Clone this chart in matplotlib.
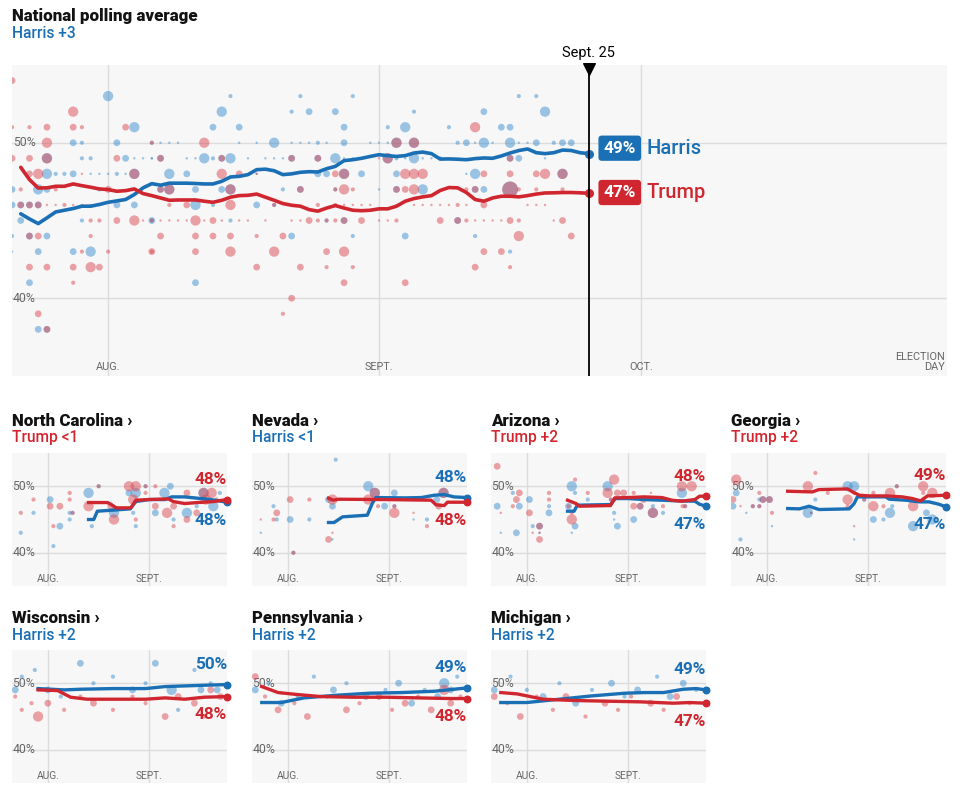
import matplotlib
matplotlib.use('Agg')
import matplotlib.pyplot as plt

plt.rcParams['font.family'] = ['Roboto', 'DejaVu Sans']

# days are counted from Aug. 1 (Sept. 1 = 31, Oct. 1 = 61, Election Day = 96)
month_ticks = [0, 31, 61]
month_labels = ['AUG.', 'SEPT.', 'OCT.']
today = 55  # Sept. 25

# national polling average (day, pct)
harris_avg_days = list(range(-10, 56))
harris_avg = [45.43, 45.1, 44.8, 45.17, 45.55, 45.66, 45.77, 45.92, 45.92, 46.03,
              46.17, 46.26, 46.35, 46.67, 47.1, 47.37, 47.27, 47.4, 47.4, 47.4,
              47.38, 47.35, 47.35, 47.52, 47.8, 47.84, 47.95, 48.27, 48.3, 48.2,
              47.95, 48.0, 48.1, 48.14, 48.12, 48.33, 48.48, 48.85, 48.91, 49.0,
              49.12, 49.23, 49.17, 49.12, 49.17, 49.34, 49.4, 49.3, 48.95, 48.96,
              48.94, 48.91, 48.98, 49.02, 49.0, 49.15, 49.34, 49.5, 49.6, 49.36,
              49.3, 49.36, 49.53, 49.5, 49.36, 49.3]
trump_avg_days = list(range(-10, 56))
trump_avg = [48.42, 47.63, 47.09, 47.1, 47.2, 47.2, 47.35, 47.24, 47.14, 47.03,
             46.99, 46.88, 46.92, 47.03, 46.73, 46.6, 46.45, 46.3, 46.32, 46.32,
             46.32, 46.24, 46.17, 46.3, 46.5, 46.6, 46.62, 46.7, 46.5, 46.3,
             46.09, 45.98, 45.92, 45.7, 45.6, 45.8, 45.96, 45.8, 45.66, 45.63,
             45.66, 45.75, 45.75, 45.92, 46.24, 46.41, 46.52, 46.6, 46.93, 47.12,
             47.1, 46.8, 46.35, 46.24, 46.45, 46.56, 46.56, 46.52, 46.6, 46.7,
             46.77, 46.78, 46.8, 46.8, 46.78, 46.75]

# individual national polls: (day, pct, poll weight 1-5)
harris_polls = [
    (0, 53, 4), (3, 51, 4), (-4, 50, 3), (-3, 50, 2), (1, 50, 3), (5, 50, 2),
    (-7, 49, 4), (-3, 49, 2), (-2, 49, 2), (2, 49, 3), (3, 49, 1), (4, 49, 1), (5, 49, 1),
    (-7, 48, 4), (-6, 48, 2), (-5, 48, 2), (-4, 48, 3), (-2, 48, 1), (-1, 48, 1), (0, 48, 1),
    (1, 48, 2), (2, 48, 1), (3, 48, 4), (-11, 47, 3), (-8, 47, 4), (-7, 47, 3), (-1, 47, 2),
    (-11, 46, 3), (-10, 46, 3), (-9, 46, 3), (-8, 46, 3), (1, 46, 3), (3, 46, 3),
    (-10, 45, 3), (-3, 45, 2), (5, 45, 2), (-11, 44, 2), (-9, 44, 3), (-7, 44, 3),
    (-11, 43, 1), (-8, 43, 3), (-4, 43, 3), (-2, 43, 4), (-9, 41, 3), (-8, 38, 3), (-7, 38, 3),
    (14, 53, 2), (22, 53, 2), (13, 52, 4), (21, 52, 2), (12, 51, 3), (15, 51, 3),
    (6, 50, 1), (7, 50, 1), (8, 50, 1), (15, 50, 1), (17, 50, 1), (19, 50, 4), (21, 50, 1), (22, 50, 1),
    (5, 49, 1), (6, 49, 3), (9, 49, 1), (10, 49, 1), (11, 49, 4), (12, 49, 2), (13, 49, 3),
    (14, 49, 4), (16, 49, 1), (18, 49, 1), (19, 49, 1), (20, 49, 1), (21, 49, 3),
    (7, 48, 4), (9, 48, 3), (17, 48, 1), (6, 47, 3), (7, 47, 4), (10, 47, 3), (13, 47, 3),
    (14, 47, 4), (20, 47, 2), (22, 47, 3), (10, 46, 4), (12, 46, 2), (17, 46, 3), (19, 46, 2),
    (5, 45, 3), (14, 45, 2), (21, 44, 3), (10, 41, 3),
    (28, 53, 2), (23, 52, 3), (26, 52, 3), (35, 52, 2), (27, 51, 3), (32, 51, 2), (34, 51, 4),
    (23, 50, 1), (24, 50, 2), (25, 50, 1), (27, 50, 3), (30, 50, 1), (31, 50, 1), (32, 50, 1),
    (33, 50, 4), (35, 50, 4), (24, 49, 3), (26, 49, 4), (27, 49, 1), (28, 49, 1), (32, 49, 4),
    (33, 49, 2), (34, 49, 1), (35, 49, 4), (36, 49, 1), (37, 49, 1), (38, 49, 2),
    (24, 48, 3), (25, 48, 3), (27, 48, 4), (29, 48, 3), (33, 48, 3), (26, 47, 2), (31, 47, 1),
    (33, 47, 3), (36, 47, 4), (25, 45, 2), (27, 45, 3), (28, 44, 2), (34, 44, 3),
    (47, 53, 2), (49, 53, 2), (43, 52, 3), (50, 52, 4), (39, 51, 2), (45, 51, 3), (46, 51, 3),
    (40, 50, 2), (41, 50, 3), (42, 50, 1), (43, 50, 4), (44, 50, 1), (46, 50, 4), (47, 50, 1),
    (48, 50, 1), (49, 50, 3), (51, 50, 2), (52, 50, 3), (53, 50, 3), (46, 49, 3), (47, 49, 3),
    (50, 49, 1), (41, 48, 1), (42, 48, 4), (52, 48, 4), (42, 47, 3), (43, 47, 3), (46, 47, 5),
    (40, 45, 3), (42, 44, 2), (46, 43, 2),
]
trump_polls = [
    (-11, 54, 3), (-4, 52, 4), (-11, 51, 2), (-9, 51, 2), (-7, 51, 3), (-4, 51, 3), (-3, 51, 2),
    (2, 51, 3), (-7, 50, 4), (5, 50, 2), (-11, 49, 3), (-9, 49, 3), (-7, 49, 4), (1, 49, 3),
    (-9, 48, 3), (-8, 48, 4), (-3, 48, 1), (3, 48, 4), (-10, 47, 2), (-6, 47, 2), (0, 47, 3),
    (-10, 46, 3), (-9, 46, 3), (-8, 46, 3), (-7, 46, 1), (-6, 46, 1), (-5, 46, 2), (-4, 46, 1),
    (-3, 46, 1), (-2, 46, 1), (-1, 46, 1), (-2, 45, 2), (-1, 45, 2), (1, 45, 3), (3, 45, 4),
    (4, 45, 1), (5, 45, 2), (-9, 44, 3), (-8, 44, 3), (-2, 44, 2), (-3, 43, 2), (0, 43, 2),
    (5, 43, 2), (-9, 42, 3), (-7, 42, 3), (-4, 42, 3), (-2, 42, 4), (-1, 42, 3), (-4, 41, 2),
    (-8, 39, 3), (-7, 38, 3),
    (11, 50, 4), (6, 49, 3), (13, 49, 3), (21, 49, 3), (13, 48, 4), (15, 48, 3), (17, 48, 1),
    (6, 47, 3), (7, 47, 4), (14, 47, 4), (7, 46, 2), (9, 46, 3), (14, 46, 4), (19, 46, 2),
    (6, 45, 1), (7, 45, 1), (8, 45, 1), (9, 45, 1), (10, 45, 4), (11, 45, 1), (12, 45, 3),
    (13, 45, 1), (15, 45, 1), (16, 45, 1), (18, 45, 1), (21, 45, 1), (22, 45, 1),
    (6, 44, 3), (10, 44, 3), (12, 44, 3), (14, 44, 3), (17, 44, 2), (20, 44, 3),
    (5, 43, 3), (10, 43, 3), (14, 43, 4), (19, 43, 4), (17, 42, 3), (22, 42, 3), (21, 40, 3), (20, 39, 2),
    (24, 49, 3), (31, 49, 1), (32, 49, 4), (33, 50, 4), (35, 50, 4), (26, 48, 3), (27, 48, 4),
    (34, 48, 4), (35, 48, 4), (36, 48, 4), (22, 47, 3), (26, 47, 2), (27, 47, 4), (28, 47, 2),
    (33, 47, 3), (34, 47, 3), (35, 47, 4), (24, 46, 2), (26, 46, 2), (27, 46, 1), (28, 46, 1),
    (29, 46, 1), (30, 46, 1), (33, 46, 1), (35, 46, 1), (36, 46, 1), (37, 46, 1), (38, 46, 1),
    (23, 45, 3), (24, 45, 2), (25, 45, 2), (26, 45, 2), (27, 45, 3), (29, 45, 3), (31, 45, 1),
    (32, 45, 1), (33, 45, 2), (38, 45, 3), (25, 43, 3), (27, 43, 4), (25, 42, 2), (28, 42, 2),
    (27, 41, 3), (34, 41, 3),
    (42, 51, 4), (46, 49, 3), (43, 48, 3), (46, 48, 3), (49, 48, 3), (50, 48, 4), (52, 48, 4),
    (41, 47, 2), (42, 47, 3), (46, 47, 5), (47, 47, 2), (49, 47, 2), (52, 47, 2),
    (39, 46, 1), (40, 46, 2), (41, 46, 1), (43, 46, 3), (48, 46, 1), (49, 46, 1), (50, 46, 1),
    (40, 45, 3), (41, 45, 2), (42, 45, 1), (43, 45, 1), (44, 45, 1), (45, 45, 1), (46, 45, 3),
    (47, 45, 2), (51, 45, 1), (52, 45, 3), (47, 44, 4), (53, 44, 3), (43, 43, 3), (45, 43, 3),
    (42, 42, 3), (46, 42, 2),
]

# battleground states
states = ['North Carolina', 'Nevada', 'Arizona', 'Georgia', 'Wisconsin', 'Pennsylvania', 'Michigan']
leaders = ['Trump <1', 'Harris <1', 'Trump +2', 'Trump +2', 'Harris +2', 'Harris +2', 'Harris +2']
harris_final = ['48%', '48%', '47%', '47%', '50%', '49%', '49%']
trump_final = ['48%', '48%', '48%', '49%', '48%', '48%', '47%']

state_harris_days = [
    [12.5, 14.1, 15.2, 19.7, 25.3, 27, 31, 36, 38, 42, 46, 50, 55],
    [12.5, 14.2, 16.8, 24.4, 25.9, 27, 36, 41, 45, 48, 51, 55],
    [12.5, 14.5, 15.5, 25.7, 27.2, 31, 36, 41.5, 46.5, 51.6, 53, 55],
    [6.4, 10, 13, 16, 25.3, 26.8, 27.8, 36.5, 37.6, 42.7, 46.8, 49.8, 52.8, 55],
    [-3, 5, 10, 20, 30, 36, 42, 48, 55],
    [-8, -2, 5, 15, 25, 35, 45, 55],
    [-8, 0, 10, 20, 30, 36, 42, 48, 52, 55],
]
state_harris = [
    [45.0, 45.0, 46.25, 46.4, 46.6, 47.7, 48.0, 48.0, 48.4, 48.4, 48.2, 48.0, 47.6],
    [44.55, 44.55, 45.4, 45.65, 47.4, 48.3, 48.25, 48.3, 48.65, 48.75, 48.4, 48.3],
    [46.25, 46.25, 47.15, 47.25, 48.15, 48.15, 48.0, 47.9, 47.8, 47.75, 47.3, 47.0],
    [46.65, 46.6, 47.0, 46.5, 46.6, 47.4, 48.4, 48.4, 48.05, 47.9, 47.65, 47.65, 47.3, 46.9],
    [49.2, 49.0, 49.1, 49.2, 49.2, 49.5, 49.6, 49.7, 49.8],
    [47.1, 47.1, 47.8, 48.2, 48.5, 48.6, 48.8, 49.3],
    [47.1, 47.1, 47.6, 48.1, 48.5, 48.6, 48.6, 49.1, 49.2, 49.0],
]
state_trump_days = [
    [12.5, 18.3, 19.3, 21, 25.5, 27, 31, 37, 38.5, 42, 46, 51, 55],
    [12.5, 14, 15.5, 30, 44, 45.5, 48, 49, 55],
    [12.5, 15.1, 16.1, 25.7, 27, 31, 36, 41.5, 44.5, 47.6, 51.6, 53, 55],
    [6.4, 14, 16, 24.8, 26.3, 28.4, 31.4, 36.5, 41.6, 44.7, 47.2, 49.3, 55],
    [-3, 3, 7, 12, 20, 30, 36, 42, 48, 55],
    [-8, -3, 3, 10, 20, 30, 40, 50, 55],
    [-8, -3, 5, 15, 25, 35, 45, 50, 55],
]
state_trump = [
    [47.55, 47.55, 47.3, 46.75, 46.75, 47.9, 48.0, 48.1, 47.7, 47.4, 47.55, 47.7, 48.0],
    [48.2, 47.9, 48.05, 48.0, 47.9, 47.2, 47.1, 47.6, 47.6],
    [47.9, 47.4, 47.0, 47.1, 48.25, 48.3, 48.4, 48.3, 47.9, 47.75, 48.0, 48.5, 48.5],
    [49.25, 49.15, 49.5, 49.6, 49.15, 48.65, 48.55, 48.55, 48.4, 48.15, 47.8, 48.55, 48.65],
    [49.0, 48.9, 47.9, 47.6, 47.6, 47.6, 47.8, 47.6, 47.9, 48.0],
    [49.5, 48.6, 48.3, 48.0, 47.9, 47.9, 47.8, 47.7, 47.7],
    [48.6, 48.4, 47.6, 47.4, 47.3, 47.2, 47.0, 47.1, 47.0],
]

state_harris_polls = [
    [(-8.3, 43, 2), (-4.4, 46, 2), (0.7, 48, 3), (1.7, 41, 2), (3.7, 44, 3), (6.7, 46, 2),
     (6.7, 45, 2), (7.6, 46, 2), (12.5, 49, 4), (13.5, 44, 2), (15.6, 50, 2), (20.3, 46, 4),
     (24.9, 49, 3), (27, 49, 4), (26.2, 46, 2), (27, 44, 2), (30, 50, 2), (33, 46, 3),
     (35.8, 49, 4), (37.6, 50, 3), (38.6, 45, 2), (42.7, 46, 4), (45.7, 47, 2), (47.8, 49, 4),
     (50.8, 47, 4), (52.8, 49, 2)],
    [(-8.3, 43, 1), (-4.4, 47, 2), (-3.4, 45, 2), (0.7, 45, 3), (1.7, 40, 2), (6.6, 45, 2),
     (12.5, 48, 3), (13.7, 47, 3), (14.7, 54, 2), (13.7, 42, 1), (24.7, 50, 4), (26.7, 49, 4),
     (29.7, 47, 3), (32.7, 49, 3), (32.7, 47, 2), (38.6, 45, 1), (42.7, 45, 2), (45.7, 48, 3),
     (47.8, 49, 4)],
    [(-9.1, 47, 3), (-8, 43, 1), (-4.3, 49, 2), (-2.3, 47, 3), (-3.2, 43, 3), (0.8, 48, 3),
     (1.8, 44, 2), (3.9, 44, 3), (3.9, 43, 1), (6.8, 47, 2), (6.8, 46, 3), (12.8, 47, 3),
     (13.8, 50, 4), (14.8, 49, 2), (14.8, 44, 3), (13.8, 43, 1), (18.7, 48, 2), (24.8, 50, 4),
     (25.8, 48, 2), (26.8, 46, 2), (26.8, 45, 1), (27.8, 44, 3), (32.8, 45, 3), (34.8, 47, 3),
     (38.7, 46, 4), (38.7, 47, 2), (41.8, 46, 2), (47.6, 49, 4), (48.6, 47, 2)],
    [(-9.4, 49, 3), (-10.4, 47, 3), (-8.1, 42, 2), (-6.3, 46, 1), (-4.3, 47, 2), (-2.3, 47, 2),
     (-2.3, 48, 2), (-1.2, 48, 3), (0.8, 48, 3), (1.6, 44, 1), (12.6, 46, 4), (13.6, 46, 1),
     (14.9, 48, 2), (24.8, 50, 4), (26.8, 50, 4), (26.8, 42, 1), (29.9, 48, 2), (32.7, 45, 3),
     (35.8, 45, 2), (37.8, 46, 4), (38.5, 47, 2), (39.9, 50, 2), (44.9, 44, 4), (49, 46, 3),
     (50.8, 45, 4)],
    [(-10, 49, 3), (-8, 51, 2), (-4, 52, 2), (0, 49, 3), (4, 48, 2), (10, 53, 3), (14, 50, 2),
     (20, 51, 2), (26, 49, 3), (30, 50, 2), (33, 53, 3), (38, 49, 4), (40, 46, 2), (45, 52, 2),
     (47, 49, 3), (50, 50, 2), (52, 49, 3)],
    [(-10, 49, 3), (-6, 50, 2), (-2, 47, 3), (3, 48, 2), (8, 51, 2), (14, 49, 3), (18, 50, 2),
     (24, 48, 3), (30, 49, 2), (34, 50, 3), (38, 47, 3), (42, 49, 2), (46, 48, 3), (48, 50, 4),
     (50, 49, 3), (52, 51, 2)],
    [(-10, 49, 3), (-5, 51, 2), (0, 49, 2), (5, 48, 3), (10, 50, 2), (15, 47, 3), (20, 49, 2),
     (26, 50, 3), (30, 48, 2), (34, 49, 3), (40, 51, 2), (44, 48, 3), (48, 50, 3), (52, 49, 2)],
]
state_trump_polls = [
    [(-8.3, 46, 2), (-4.4, 48, 2), (0.7, 47, 3), (1.7, 44, 2), (3.7, 47, 3), (6.7, 49, 2),
     (6.7, 48, 2), (7.6, 46, 2), (12.5, 47, 4), (15.6, 50, 2), (19.3, 47, 3), (20.3, 45, 4),
     (24.9, 50, 4), (27, 50, 4), (26.2, 48, 4), (27, 45, 2), (30, 49, 2), (30, 50, 2),
     (33, 50, 2), (33, 47, 3), (36.6, 46, 4), (38.6, 47, 3), (38.6, 44, 2), (42.7, 49, 3),
     (42.7, 45, 3), (45.7, 46, 3), (47.8, 49, 4), (50.3, 49, 4), (48.5, 48, 4), (51.8, 48, 2)],
    [(-8.3, 45, 1), (-4.4, 45, 2), (-3.4, 46, 3), (0.7, 48, 3), (1.7, 40, 2), (6.6, 48, 2),
     (13.7, 48, 4), (12.5, 42, 3), (13.7, 43, 1), (24.7, 48, 4), (26.7, 49, 4), (24.7, 46, 1),
     (27.7, 47, 2), (32.7, 47, 2), (32.7, 46, 4), (38.6, 46, 1), (42.7, 44, 2), (47.8, 49, 4),
     (46.3, 47, 3)],
    [(-9.1, 53, 3), (-8, 46, 1), (-4.3, 47, 2), (-3.2, 48, 3), (-2.3, 49, 3), (0.8, 46, 3),
     (1.8, 43, 1), (3.9, 44, 3), (3.9, 42, 3), (3.9, 43, 1), (6.8, 49, 2), (6.8, 48, 2),
     (12.8, 47, 2), (14.8, 51, 2), (13.8, 46, 2), (13.8, 45, 4), (18.7, 49, 2), (26.8, 51, 4),
     (24.8, 49, 4), (25.8, 48, 2), (27.8, 49, 3), (29.7, 49, 3), (32.8, 49, 2), (32.8, 47, 3),
     (34.8, 47, 3), (35.8, 48, 3), (38.1, 49, 1), (38.7, 46, 4), (41.8, 47, 2), (47.6, 50, 4),
     (50.6, 50, 4), (48.6, 47, 2), (47.8, 47, 2)],
    [(-9.4, 51, 4), (-10.4, 48, 3), (-8.1, 47, 1), (-4.3, 47, 2), (-2.3, 47, 2), (-2.3, 49, 2),
     (-1.2, 48, 3), (0.8, 48, 3), (1.6, 46, 2), (12.6, 50, 4), (13.6, 46, 1), (14.9, 52, 2),
     (18.7, 49, 2), (24.8, 48, 4), (26.8, 49, 2), (24.8, 47, 2), (26.8, 44, 1), (29.9, 48, 2),
     (32.7, 49, 2), (32.7, 47, 4), (35.8, 47, 2), (37.8, 49, 4), (39.9, 50, 2), (44.9, 47, 4),
     (48, 50, 4), (50.8, 49, 4), (48, 49, 2), (48, 48, 2)],
    [(-10, 48, 2), (-8, 46, 2), (-5, 47, 2), (-3, 45, 4), (0, 47, 3), (5, 46, 2), (10, 48, 2),
     (14, 47, 3), (20, 46, 2), (26, 48, 2), (30, 47, 2), (36, 45, 3), (40, 48, 3), (45, 47, 3),
     (48, 45, 2), (50, 49, 3), (53, 48, 3)],
    [(-10, 51, 3), (-7, 48, 2), (-3, 46, 3), (2, 47, 2), (6, 45, 3), (12, 48, 2), (18, 46, 3),
     (22, 47, 2), (28, 48, 3), (32, 46, 2), (36, 47, 3), (40, 48, 2), (44, 46, 3), (48, 49, 4),
     (50, 47, 3), (53, 48, 2)],
    [(-10, 48, 3), (-6, 47, 2), (-2, 45, 3), (3, 48, 2), (8, 46, 2), (12, 48, 3), (18, 45, 2),
     (24, 47, 3), (28, 46, 2), (32, 48, 2), (38, 47, 3), (42, 46, 2), (46, 48, 3), (50, 47, 2)],
]

# ---- style ----
BLUE = '#1a6fb5'
RED = '#d0262f'
BLUE_DOT = '#3d8fd0'
RED_DOT = '#dc4a52'
GRID = '#dcdcdc'
BG = '#f7f7f7'
TICK = '#666666'
INK = '#121212'
SIZES = {1: 3, 2: 9, 3: 24, 4: 55, 5: 130}

W, H = 964, 792
fig = plt.figure(figsize=(W / 100, H / 100), dpi=100)


def px_box(x0, y0, x1, y1):
    return [x0 / W, 1 - y1 / H, (x1 - x0) / W, (y1 - y0) / H]


def fy(y):
    return 1 - y / H


def base_axes(rect, xmax, fs_month):
    ax = fig.add_axes(rect)
    ax.set_facecolor(BG)
    ax.set_xlim(-11, xmax)
    ax.set_ylim(35, 55)
    for s in ax.spines.values():
        s.set_visible(False)
    ax.set_xticks([])
    ax.set_yticks([])
    for v in (40, 50):
        ax.axhline(v, color=GRID, lw=1, zorder=0)
    for d in month_ticks:
        if d < xmax:
            ax.axvline(d, color=GRID, lw=1, zorder=0)
    for v in (40, 50):
        ax.text(-10.9, v, f'{v}%', color=TICK, fontsize=8.8, va='center', ha='left', zorder=1)
    trans = ax.get_xaxis_transform()
    for d, lab in zip(month_ticks, month_labels):
        if d < xmax:
            ax.text(d, 0.012, lab, transform=trans, color=TICK, fontsize=fs_month,
                    ha='center', va='bottom')
    return ax


def draw_polls(ax, polls, color):
    ax.scatter([p[0] for p in polls], [p[1] for p in polls],
               s=[SIZES[p[2]] for p in polls], color=color, alpha=0.5,
               linewidths=0, zorder=2)


# ---- national chart ----
ax = base_axes(px_box(12, 65, 947, 376), 96, 7.8)
ax.text(95.8, 0.012, 'ELECTION\nDAY', transform=ax.get_xaxis_transform(), color=TICK,
        fontsize=7.8, ha='right', va='bottom', linespacing=1.0)
draw_polls(ax, harris_polls, BLUE_DOT)
draw_polls(ax, trump_polls, RED_DOT)
ax.plot(harris_avg_days, harris_avg, color=BLUE, lw=2.6, zorder=4, solid_capstyle='round')
ax.plot(trump_avg_days, trump_avg, color=RED, lw=2.6, zorder=4, solid_capstyle='round')
ax.scatter([today], [harris_avg[-1]], s=30, color=BLUE, zorder=5, clip_on=False)
ax.scatter([today], [trump_avg[-1]], s=30, color=RED, zorder=5, clip_on=False)
ax.axvline(today, color='black', lw=1.3, zorder=6)
ax.scatter([today], [54.75], marker='v', s=70, color='black', zorder=7, clip_on=False)
ax.text(today, 55.35, 'Sept. 25', ha='center', va='bottom', fontsize=10.5, color='black')

for val, lab, name, col, dy in [(harris_avg[-1], '49%', 'Harris', BLUE, 0.35),
                                (trump_avg[-1], '47%', 'Trump', RED, 0.05)]:
    ax.text(58.55, val + dy, lab, ha='center', va='center', color='white', fontsize=12.3,
            fontweight='bold', zorder=8,
            bbox=dict(boxstyle='round,pad=0.3,rounding_size=0.2', fc=col, ec='none'))
    ax.text(61.6, val + dy, name, ha='left', va='center', color=col, fontsize=14.5,
            fontweight='medium', zorder=8)

fig.text(12 / W, fy(16), 'National polling average', fontsize=12.2, fontweight='heavy',
         color=INK, va='center', ha='left')
fig.text(12 / W, fy(33), 'Harris +3', fontsize=11.2, fontweight='medium', color=BLUE,
         va='center', ha='left')

# ---- state charts ----
col_x = [12, 252, 491, 731]
row_y = [453, 650]
for i, st in enumerate(states):
    r, c = divmod(i, 4)
    x0, y0 = col_x[c], row_y[r]
    sax = base_axes(px_box(x0, y0, x0 + 215, y0 + 133), 55, 7.3)
    draw_polls(sax, state_harris_polls[i], BLUE_DOT)
    draw_polls(sax, state_trump_polls[i], RED_DOT)
    sax.plot(state_harris_days[i], state_harris[i], color=BLUE, lw=2.4, zorder=4)
    sax.plot(state_trump_days[i], state_trump[i], color=RED, lw=2.4, zorder=4)
    he, te = state_harris[i][-1], state_trump[i][-1]
    sax.scatter([today], [he], s=22, color=BLUE, zorder=5, clip_on=False)
    sax.scatter([today], [te], s=22, color=RED, zorder=5, clip_on=False)
    if he >= te:
        top, bot = (he, harris_final[i], BLUE), (te, trump_final[i], RED)
    else:
        top, bot = (te, trump_final[i], RED), (he, harris_final[i], BLUE)
    sax.text(55, top[0] + 3.0, top[1], color=top[2], fontsize=12.3, fontweight='bold',
             ha='right', va='center', zorder=8)
    sax.text(55, bot[0] - 2.7, bot[1], color=bot[2], fontsize=12.3, fontweight='bold',
             ha='right', va='center', zorder=8)
    lead_col = BLUE if leaders[i].startswith('Harris') else RED
    fig.text(x0 / W, fy(y0 - 32), st + ' \u203a', fontsize=12.2, fontweight='heavy',
             color=INK, va='center', ha='left')
    fig.text(x0 / W, fy(y0 - 15), leaders[i], fontsize=11.2, fontweight='medium',
             color=lead_col, va='center', ha='left')

fig.savefig('out.png', dpi=100, facecolor='white')
